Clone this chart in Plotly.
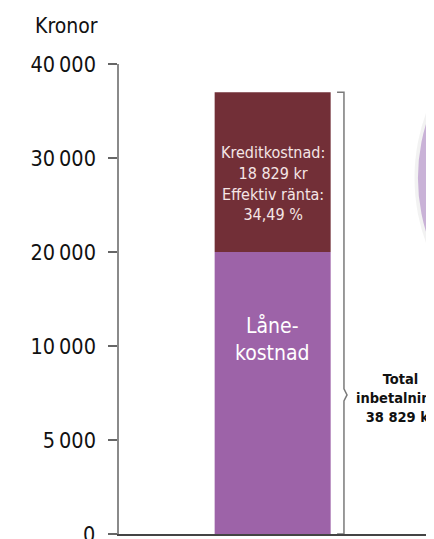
import numpy as np
import plotly.graph_objects as go

# ---- data (kronor as drawn on the chart's axis) ----
tick_values_kr = [0, 5000, 10000, 20000, 30000, 40000]
tick_labels = ["0", "5\u2009000", "10\u2009000", "20\u2009000", "30\u2009000", "40\u2009000"]
segment_names = ["Lånekostnad", "Kreditkostnad"]
lane_top_kr = 20000          # top of the purple segment
bar_top_kr = 37000           # top of the stacked bar as drawn
kredit_text = "Kreditkostnad:<br>18 829 kr<br>Effektiv ränta:<br>34,49 %"
lane_text = "Låne-<br>kostnad"
total_text = "<b>Total<br>inbetalning:<br>38 829 kr</b>"

# axis positions: ticks are drawn evenly spaced, so map kronor through them
pos = np.arange(len(tick_values_kr))
def to_axis(v):
    return float(np.interp(v, tick_values_kr, pos))

lane_h = to_axis(lane_top_kr)
top = to_axis(bar_top_kr)
kredit_h = top - lane_h

FONT = "DejaVu Sans Condensed, DejaVu Sans, sans-serif"
PURPLE = "#9D63A8"
DARKRED = "#722F37"

fig = go.Figure()
fig.add_trace(go.Bar(x=[1], y=[lane_h], base=[0], width=0.755,
                     marker=dict(color=PURPLE, line=dict(width=0)),
                     name=segment_names[0], hoverinfo="skip"))
fig.add_trace(go.Bar(x=[1], y=[kredit_h], base=[lane_h], width=0.755,
                     marker=dict(color=DARKRED, line=dict(width=0)),
                     name=segment_names[1], hoverinfo="skip"))

# bracket spanning the whole bar (total payment)
bx = 1.464
tick_w = 0.045
notch_y = 1.48
notch_h = 0.065
notch_dx = 0.02
fig.add_trace(go.Scatter(
    x=[bx - tick_w, bx, bx, bx + notch_dx, bx, bx, bx - tick_w],
    y=[top, top, notch_y + notch_h, notch_y, notch_y - notch_h, 0, 0],
    mode="lines", line=dict(color="#7a7a7a", width=1.5),
    hoverinfo="skip", showlegend=False))

fig.add_annotation(x=1, y=3.73, text=kredit_text, showarrow=False,
                   font=dict(family=FONT, size=16, color="#F5E6E6"),
                   xref="x", yref="y")
fig.add_annotation(x=1, y=2.07, text=lane_text, showarrow=False,
                   font=dict(family=FONT, size=21, color="#FFFFFF"),
                   xref="x", yref="y")
fig.add_annotation(x=1.832, y=1.45, text=total_text, showarrow=False,
                   font=dict(family=FONT, size=14.5, color="#111111"),
                   xref="x", yref="y")
fig.add_annotation(x=-0.168, y=1.081, xref="paper", yref="paper",
                   text="Kronor", showarrow=False, xanchor="center", yanchor="middle",
                   font=dict(family=FONT, size=21, color="#111111"))
# the label at the bottom edge of the axis (plotly drops it at the div edge)
fig.add_annotation(x=pos[0], y=pos[0], xref="paper", yref="y", xshift=-22,
                   text=tick_labels[0], showarrow=False,
                   xanchor="right", yanchor="middle",
                   font=dict(family=FONT, size=21.5, color="#111111"))

# decorative circle at right edge
fig.add_shape(type="circle", xref="paper", yref="paper",
              x0=0.938, x1=2.128, y0=0.357, y1=1.158,
              fillcolor="rgba(0,0,0,0.05)", line=dict(width=0), layer="below")
fig.add_shape(type="circle", xref="paper", yref="paper",
              x0=0.949, x1=2.117, y0=0.366, y1=1.149,
              fillcolor="#C9B2D7", line=dict(width=0), layer="below")

# page body has an 8px margin, so the figure is 8px smaller than the window
fig.update_layout(
    width=426, height=531,
    margin=dict(l=111, r=0, t=56, b=5),
    paper_bgcolor="white", plot_bgcolor="white",
    showlegend=False, barmode="overlay",
    font=dict(family=FONT, color="#111111"),
    xaxis=dict(range=[0, 2.05], showgrid=False, zeroline=False,
               showticklabels=False, ticks="", showline=True,
               linecolor="#444444", linewidth=1.5, fixedrange=True),
    yaxis=dict(range=[0, 5], tickvals=list(pos),
               ticktext=[""] + tick_labels[1:],
               showgrid=False, zeroline=False, showline=True,
               linecolor="#8a8a8a", linewidth=1.5,
               ticks="outside", ticklen=9, tickcolor="#666666", tickwidth=1.5,
               ticklabelstandoff=8,
               tickfont=dict(family=FONT, size=21.5, color="#111111")),
)

fig.write_html("out.html")
